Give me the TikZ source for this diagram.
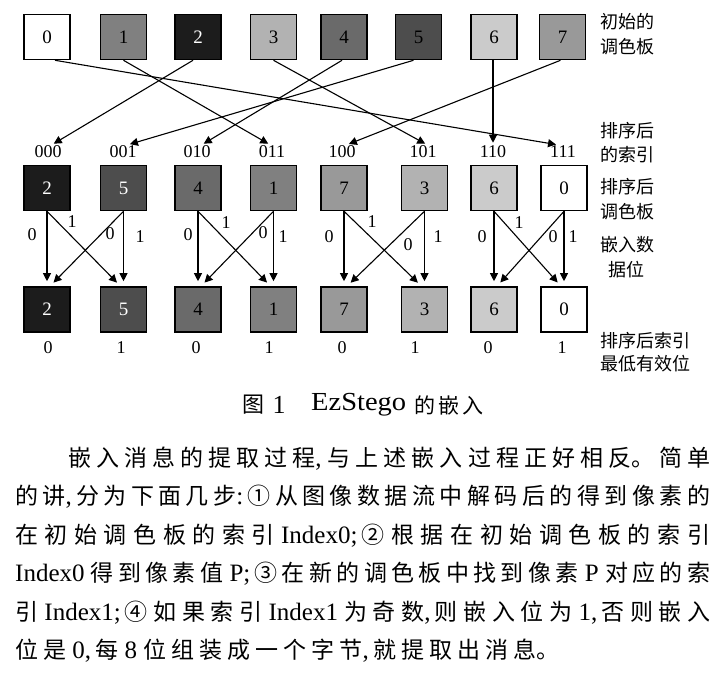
\documentclass[tikz,border=0pt]{standalone}
\usepackage{fontspec}
\usepackage{graphicx}
\setmainfont{Liberation Serif}
\newfontfamily\cjk{Noto Sans CJK SC}
\newcommand\zh[1]{{\cjk\fontsize{23}{26}\selectfont #1}}
\usetikzlibrary{arrows.meta}
\XeTeXlinebreaklocale "zh"
\XeTeXlinebreakskip=0pt plus 1fil
\tolerance=9999
\definecolor{c0}{HTML}{FFFFFF}
\definecolor{c1}{HTML}{808080}
\definecolor{c2}{HTML}{1C1C1C}
\definecolor{c3}{HTML}{B2B2B2}
\definecolor{c4}{HTML}{6A6A6A}
\definecolor{c5}{HTML}{4D4D4D}
\definecolor{c6}{HTML}{CBCBCB}
\definecolor{c7}{HTML}{999999}
\begin{document}
\begin{tikzpicture}[x=1pt,y=-1pt,
  pal/.style={draw=black, line width=1.6pt, minimum width=46pt, minimum height=45pt, inner sep=0pt, font=\fontsize{19}{19}\selectfont},
  idx/.style={inner sep=1pt, font=\fontsize{18}{18}\selectfont},
  bit/.style={inner sep=1pt, font=\fontsize{18}{18}\selectfont},
  side/.style={anchor=west, inner sep=0pt, font=\cjk\fontsize{18}{18}\selectfont},
  arr/.style={line width=1.1pt, -{Triangle[length=8pt,width=8pt]}, shorten >=2pt},
  arrb/.style={line width=1.1pt, -{Triangle[length=8pt,width=8pt]}, shorten >=5pt},
  para/.style={anchor=west, inner sep=0pt, align=justify, font=\fontsize{25}{28}\selectfont},
  captext/.style={inner sep=0pt, font=\fontsize{26}{26}\selectfont}]
\useasboundingbox (0,0) rectangle (721,685);

% top palette
\node[pal, fill=c0] (t0) at (47,37) {0};
\node[pal, fill=c1] (t1) at (123.5,37) {1};
\node[pal, fill=c2, text=white] (t2) at (198,37) {2};
\node[pal, fill=c3] (t3) at (273.5,37) {3};
\node[pal, fill=c4] (t4) at (344,37) {4};
\node[pal, fill=c5] (t5) at (418.5,37) {5};
\node[pal, fill=c6] (t6) at (494,37) {6};
\node[pal, fill=c7] (t7) at (562.5,37) {7};

% sorted indices
\node[idx] (i0) at (48,152) {000};
\node[idx] (i1) at (123,152) {001};
\node[idx] (i2) at (197,152) {010};
\node[idx] (i3) at (272,152) {011};
\node[idx] (i4) at (342,152) {100};
\node[idx] (i5) at (423,152) {101};
\node[idx] (i6) at (493,152) {110};
\node[idx] (i7) at (563,152) {111};

% mapping arrows
\draw[arr] ([xshift=8pt]t0.south) -- ([xshift=-5pt]i7.north);
\draw[arr] (t1.south) -- ([xshift=-2pt]i3.north);
\draw[arr] ([xshift=-5pt]t2.south) -- ([xshift=4pt]i0.north);
\draw[arr] (t3.south) -- ([xshift=4pt]i5.north);
\draw[arr] ([xshift=-2pt]t4.south) -- ([xshift=5pt]i2.north);
\draw[arr] ([xshift=-5pt]t5.south) -- ([xshift=5pt]i1.north);
\draw[arr] ([xshift=-1pt]t6.south) -- (i6.north);
\draw[arr] ([xshift=-2pt]t7.south) -- ([xshift=5pt]i4.north);

% sorted palette
\node[pal, fill=c2, text=white] (m0) at (47,188) {2};
\node[pal, fill=c5, text=white] (m1) at (123.5,188) {5};
\node[pal, fill=c4] (m2) at (198,188) {4};
\node[pal, fill=c1] (m3) at (273.5,188) {1};
\node[pal, fill=c7] (m4) at (344,188) {7};
\node[pal, fill=c3] (m5) at (424.5,188) {3};
\node[pal, fill=c6] (m6) at (494,188) {6};
\node[pal, fill=c0] (m7) at (564,188) {0};

% result palette
\node[pal, fill=c2, text=white] (b0) at (47,309.5) {2};
\node[pal, fill=c5, text=white] (b1) at (123.5,309.5) {5};
\node[pal, fill=c4] (b2) at (198,309.5) {4};
\node[pal, fill=c1] (b3) at (273.5,309.5) {1};
\node[pal, fill=c7] (b4) at (344,309.5) {7};
\node[pal, fill=c3] (b5) at (424.5,309.5) {3};
\node[pal, fill=c6] (b6) at (494,309.5) {6};
\node[pal, fill=c0] (b7) at (564,309.5) {0};

% embedding arrows
\foreach \p/\q in {0/1,2/3,4/5,6/7}{
  \draw[arrb] (m\p.south) -- (b\p.north);
  \draw[arrb] (m\q.south) -- (b\q.north);
  \draw[arrb] (m\p.south) -- ([xshift=-3pt]b\q.north);
  \draw[arrb] (m\q.south) -- ([xshift=3pt]b\p.north);
}

% bit labels on arrows
\node[bit] (l00) at (32,235) {0};
\node[bit] (l01) at (72,222) {1};
\node[bit] (l02) at (110,234) {0};
\node[bit] (l03) at (140,237) {1};
\node[bit] (l10) at (188,235) {0};
\node[bit] (l11) at (226,223) {1};
\node[bit] (l12) at (263,233) {0};
\node[bit] (l13) at (283,237) {1};
\node[bit] (l20) at (329,237) {0};
\node[bit] (l21) at (372,222) {1};
\node[bit] (l22) at (408,245) {0};
\node[bit] (l23) at (438,237) {1};
\node[bit] (l30) at (482,237) {0};
\node[bit] (l31) at (519,223) {1};
\node[bit] (l32) at (553,237) {0};
\node[bit] (l33) at (573,237) {1};

% LSB labels
\node[bit] (s0) at (48,348) {0};
\node[bit] (s1) at (121,348) {1};
\node[bit] (s2) at (196,348) {0};
\node[bit] (s3) at (269,348) {1};
\node[bit] (s4) at (342,348) {0};
\node[bit] (s5) at (415,348) {1};
\node[bit] (s6) at (488,348) {0};
\node[bit] (s7) at (562,348) {1};

% side labels
\node[side] (r1) at (600,22) {初始的};
\node[side] (r2) at (600,47) {调色板};
\node[side] (r3) at (600,131) {排序后};
\node[side] (r4) at (600,155) {的索引};
\node[side] (r5) at (600,187) {排序后};
\node[side] (r6) at (600,212) {调色板};
\node[side] (r7) at (600,245) {嵌入数};
\node[side] (r8) at (608,270) {据位};
\node[side] (r9) at (600,341) {排序后索引};
\node[side] (r10) at (600,364) {最低有效位};

% caption
\node[captext] (cap1) at (253,405) {\cjk\fontsize{22}{22}\selectfont 图};
\node[captext] (cap2) at (279,405) {1};
\node[captext, anchor=west] (cap3) at (311,405) {\resizebox{95pt}{\height}{EzStego}};
\node[captext, anchor=west] (cap4) at (414,405) {\cjk\fontsize{21}{21}\selectfont 的\kern3pt 嵌\kern3pt 入};

% paragraph
\node[para, text width=642pt] (p1) at (68,459) {\parfillskip=0pt \zh{嵌入消息的提取过程}, \zh{与上述嵌入过程正好相反。简单}\par};
\node[para, text width=695pt] (p2) at (15,497) {\parfillskip=0pt \zh{的讲},\,\zh{分为下面几步}:\,\zh{①从图像数据流中解码后的得到像素的}\par};
\node[para, text width=695pt] (p3) at (15,536) {\parfillskip=0pt \zh{在初始调色板的索引} Index0;\,\zh{②根据在初始调色板的索引}\par};
\node[para, text width=695pt] (p4) at (15,574) {\parfillskip=0pt Index0 \zh{得到像素值} P;\,\zh{③在新的调色板中找到像素} P \zh{对应的索}\par};
\node[para, text width=695pt] (p5) at (15,613) {\parfillskip=0pt \zh{引} Index1;\,\zh{④如果索引} Index1 \zh{为奇数},\,\zh{则嵌入位为} 1,\,\zh{否则嵌入}\par};
\node[para, text width=544pt] (p6) at (15,651) {\parfillskip=0pt \zh{位是} 0,\,\zh{每} 8 \zh{位组装成一个字节},\,\zh{就提取出消息。}\par};
\end{tikzpicture}
\end{document}
